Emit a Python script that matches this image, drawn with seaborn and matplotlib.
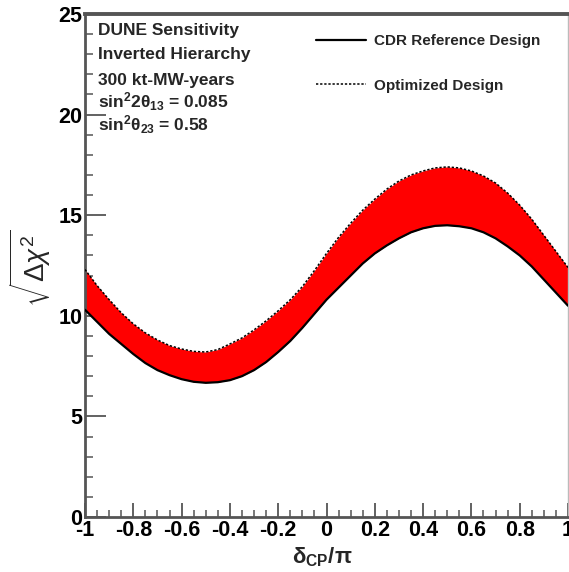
import matplotlib
matplotlib.use("Agg")
import matplotlib.pyplot as plt
import seaborn as sns
import pandas as pd
from matplotlib.ticker import MultipleLocator, FixedLocator, FixedFormatter

# ---- data ----
delta_cp = [-1.0, -0.95, -0.9, -0.85, -0.8, -0.75, -0.7, -0.65, -0.6, -0.55, -0.5,
            -0.45, -0.4, -0.35, -0.3, -0.25, -0.2, -0.15, -0.1, -0.05, 0.0,
            0.05, 0.1, 0.15, 0.2, 0.25, 0.3, 0.35, 0.4, 0.45, 0.5,
            0.55, 0.6, 0.65, 0.7, 0.75, 0.8, 0.85, 0.9, 0.95, 1.0]
cdr_reference = [10.3, 9.7, 9.1, 8.6, 8.1, 7.65, 7.3, 7.05, 6.85, 6.72, 6.67,
                 6.7, 6.8, 7.0, 7.3, 7.7, 8.2, 8.75, 9.4, 10.1, 10.8,
                 11.4, 12.0, 12.6, 13.1, 13.5, 13.85, 14.15, 14.35, 14.47, 14.5,
                 14.45, 14.35, 14.15, 13.85, 13.45, 13.0, 12.45, 11.8, 11.15, 10.5]
optimized = [12.3, 11.5, 10.8, 10.15, 9.6, 9.15, 8.8, 8.52, 8.35, 8.23, 8.2,
             8.32, 8.6, 8.9, 9.3, 9.75, 10.25, 10.8, 11.45, 12.25, 13.1,
             13.9, 14.6, 15.25, 15.8, 16.3, 16.7, 17.0, 17.2, 17.35, 17.4,
             17.35, 17.2, 16.95, 16.6, 16.1, 15.5, 14.8, 14.0, 13.2, 12.4]

xtick_values = [-1, -0.8, -0.6, -0.4, -0.2, 0, 0.2, 0.4, 0.6, 0.8, 1]
xtick_labels = ["-1", "-0.8", "-0.6", "-0.4", "-0.2", "0", "0.2", "0.4", "0.6", "0.8", "1"]
ytick_values = [0, 5, 10, 15, 20, 25]
ytick_labels = ["0", "5", "10", "15", "20", "25"]

info_lines = ["DUNE Sensitivity", "Inverted Hierarchy", "300 kt-MW-years",
              r"sin$^{\mathbf{2}}$2θ$_{\mathbf{13}}$ = 0.085",
              r"sin$^{\mathbf{2}}$θ$_{\mathbf{23}}$ = 0.58"]
series_labels = ["CDR Reference Design", "Optimized Design"]

df = pd.DataFrame({"delta": delta_cp, "cdr": cdr_reference, "opt": optimized})

sns.set_theme(style="white")
plt.rcParams['font.family'] = ['Liberation Sans', 'DejaVu Sans']
plt.rcParams['mathtext.fontset'] = 'custom'
plt.rcParams['mathtext.rm'] = 'Liberation Sans'
plt.rcParams['mathtext.it'] = 'Liberation Sans:italic'
plt.rcParams['mathtext.bf'] = 'Liberation Sans:bold'

W, H = 569, 572
fig = plt.figure(figsize=(W / 100, H / 100), dpi=100)
ax = fig.add_axes([85 / W, 1 - 517 / H, (568 - 85) / W, (517 - 14) / H])

ax.fill_between(df["delta"], df["cdr"], df["opt"], color="#ff0000", lw=0, zorder=1)
sns.lineplot(data=df, x="delta", y="cdr", ax=ax, color="black", lw=1.6,
             label=series_labels[0], zorder=3)
sns.lineplot(data=df, x="delta", y="opt", ax=ax, color="black", lw=1.1,
             linestyle=(0, (1.5, 1.2)), label=series_labels[1], zorder=3)

ax.set_xlim(-1, 1)
ax.set_ylim(0, 25)
ax.set_xlabel("")
ax.set_ylabel("")

ax.xaxis.set_major_locator(FixedLocator(xtick_values))
ax.xaxis.set_major_formatter(FixedFormatter(xtick_labels))
ax.xaxis.set_minor_locator(MultipleLocator(0.05))
ax.yaxis.set_major_locator(FixedLocator(ytick_values))
ax.yaxis.set_major_formatter(FixedFormatter(ytick_labels))
ax.yaxis.set_minor_locator(MultipleLocator(1))

ax.tick_params(axis="both", which="both", direction="in", color="#555555",
               bottom=True, left=True, top=False, right=False)
ax.tick_params(axis="x", which="major", length=10, width=1.3, pad=2)
ax.tick_params(axis="x", which="minor", length=5, width=1.1)
ax.tick_params(axis="y", which="major", length=15, width=1.3, pad=2)
ax.tick_params(axis="y", which="minor", length=6, width=1.1)
for lab in ax.get_xticklabels() + ax.get_yticklabels():
    lab.set_fontsize(15.5)
    lab.set_fontweight("bold")
    lab.set_color("black")

for side in ["top", "left", "bottom"]:
    ax.spines[side].set_color("#555555")
    ax.spines[side].set_linewidth(2)
ax.spines["top"].set_linewidth(2.8)
ax.spines["right"].set_color("#bbbbbb")
ax.spines["right"].set_linewidth(1)

ys = [31, 54, 80, 102, 125]
for txt, y in zip(info_lines, ys):
    fig.text(98 / W, 1 - y / H, txt, fontsize=12.5, fontweight="bold", va="center", ha="left")

leg = ax.legend(loc="upper left", bbox_to_anchor=(316 / W, 1 - 34 / H),
                bbox_transform=fig.transFigure, frameon=False,
                prop={"weight": "bold", "size": 11}, handlelength=3.3,
                labelspacing=2.0, borderaxespad=0, borderpad=0, handletextpad=0.5)

fig.text(322 / W, 1 - 557 / H, r"δ$_{\mathbf{CP}}$/π", fontsize=16, fontweight="bold",
         ha="center", va="center")
fig.text(30 / W, 1 - 268 / H, r"$\sqrt{\Delta\chi^{2}}$", fontsize=20, rotation=90,
         ha="center", va="center")

fig.savefig("out.png", dpi=100)
